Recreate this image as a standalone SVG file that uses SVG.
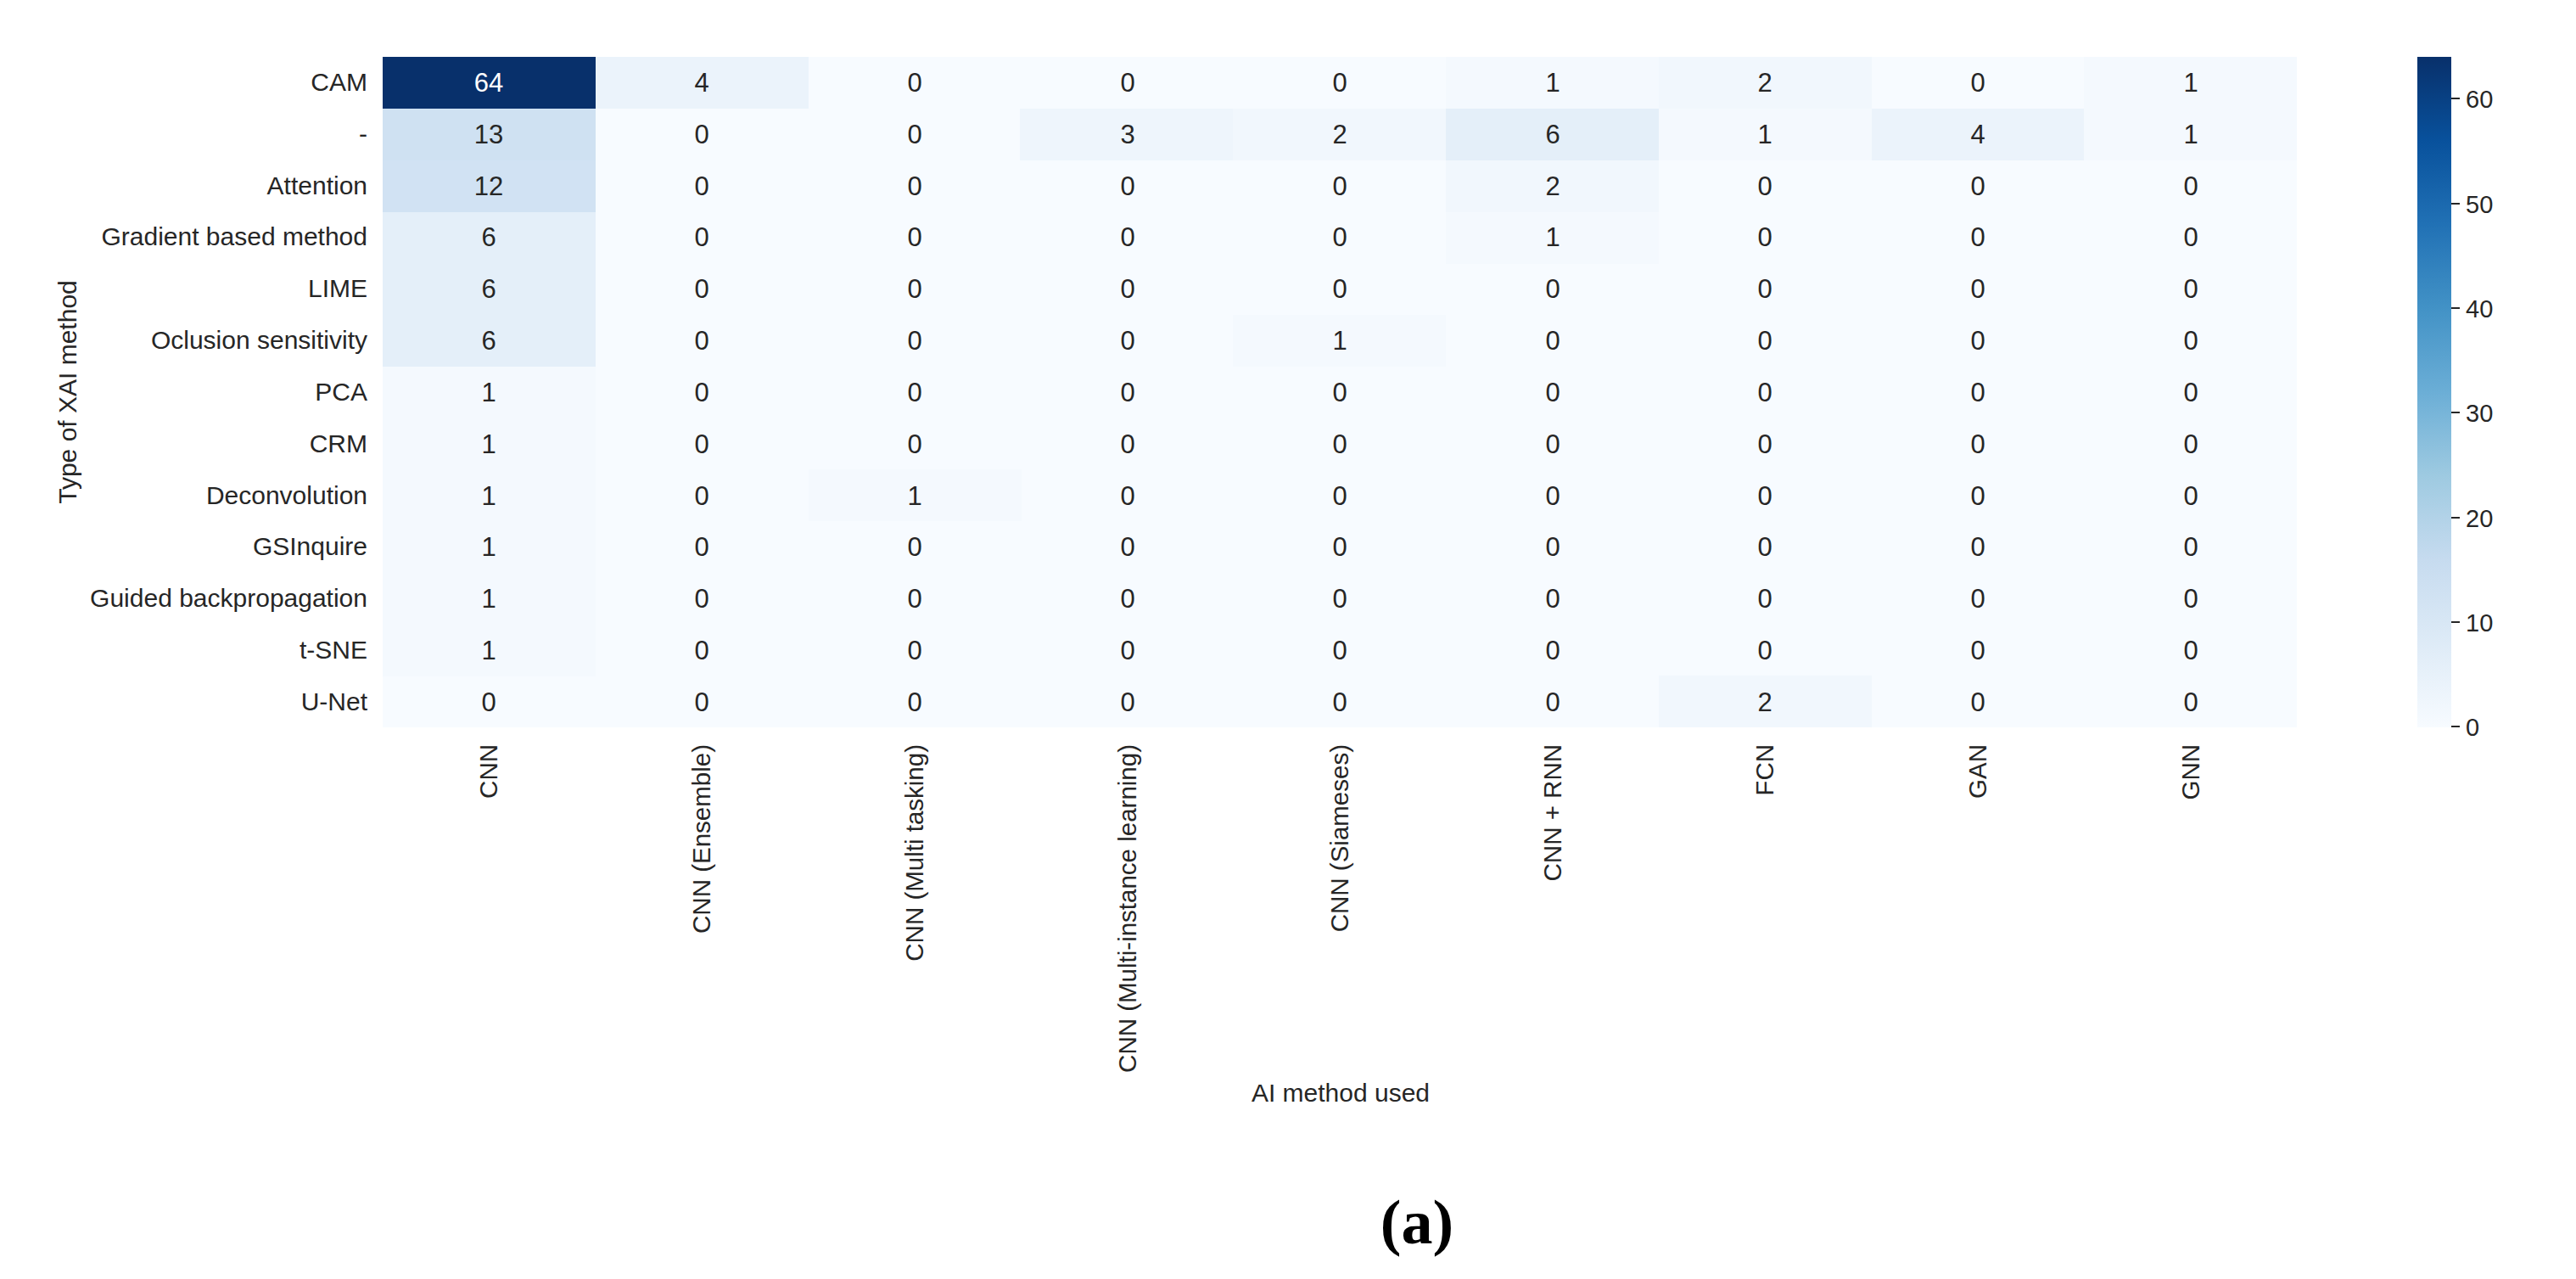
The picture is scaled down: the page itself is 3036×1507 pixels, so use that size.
<svg xmlns="http://www.w3.org/2000/svg" width="3036" height="1507" viewBox="0 0 3036 1507">
<style>
text{font-family:"Liberation Sans",Arial,sans-serif;fill:#262626}
.v{font-size:31px;text-anchor:middle}
.w{fill:#ffffff}
.r{font-size:30px;text-anchor:end}
.c{font-size:29.5px;text-anchor:end}
.t{font-size:29px}
.ax{font-size:30px;text-anchor:middle}
</style>
<defs>
<linearGradient id="cb" x1="0" y1="1" x2="0" y2="0">
<stop offset="0" stop-color="#f7fbff"/><stop offset="0.125" stop-color="#deebf7"/><stop offset="0.25" stop-color="#c6dbef"/><stop offset="0.375" stop-color="#9ecae1"/><stop offset="0.5" stop-color="#6baed6"/><stop offset="0.625" stop-color="#4292c6"/><stop offset="0.75" stop-color="#2171b5"/><stop offset="0.875" stop-color="#08519c"/><stop offset="1" stop-color="#08306b"/>
</linearGradient>
</defs>
<rect width="3036" height="1507" fill="#ffffff"/>
<g id="heatmap">
<rect x="451" y="67" width="2256" height="790" fill="#f7fbff"/>
<rect x="451" y="67" width="251" height="61" fill="#08306b"/>
<rect x="702" y="67" width="251" height="61" fill="#ebf3fb"/>
<rect x="1704" y="67" width="251" height="61" fill="#f4f9fe"/>
<rect x="1955" y="67" width="251" height="61" fill="#f1f7fd"/>
<rect x="2456" y="67" width="251" height="61" fill="#f4f9fe"/>
<rect x="451" y="128" width="251" height="61" fill="#cfe1f2"/>
<rect x="1202" y="128" width="251" height="61" fill="#eef5fc"/>
<rect x="1453" y="128" width="251" height="61" fill="#f1f7fd"/>
<rect x="1704" y="128" width="251" height="61" fill="#e4eff9"/>
<rect x="1955" y="128" width="251" height="61" fill="#f4f9fe"/>
<rect x="2206" y="128" width="251" height="61" fill="#ebf3fb"/>
<rect x="2456" y="128" width="251" height="61" fill="#f4f9fe"/>
<rect x="451" y="189" width="251" height="61" fill="#d1e2f3"/>
<rect x="1704" y="189" width="251" height="61" fill="#f1f7fd"/>
<rect x="451" y="250" width="251" height="182" fill="#e4eff9"/>
<rect x="1704" y="250" width="251" height="61" fill="#f4f9fe"/>
<rect x="1453" y="371" width="251" height="61" fill="#f4f9fe"/>
<rect x="451" y="432" width="251" height="365" fill="#f4f9fe"/>
<rect x="953" y="553" width="251" height="61" fill="#f4f9fe"/>
<rect x="1955" y="796" width="251" height="61" fill="#f1f7fd"/>
</g>
<g id="values">
<text class="v w" x="576" y="108">64</text><text class="v" x="827" y="108">4</text><text class="v" x="1078" y="108">0</text><text class="v" x="1329" y="108">0</text><text class="v" x="1579" y="108">0</text><text class="v" x="1830" y="108">1</text><text class="v" x="2080" y="108">2</text><text class="v" x="2331" y="108">0</text><text class="v" x="2582" y="108">1</text>
<text class="v" x="576" y="169">13</text><text class="v" x="827" y="169">0</text><text class="v" x="1078" y="169">0</text><text class="v" x="1329" y="169">3</text><text class="v" x="1579" y="169">2</text><text class="v" x="1830" y="169">6</text><text class="v" x="2080" y="169">1</text><text class="v" x="2331" y="169">4</text><text class="v" x="2582" y="169">1</text>
<text class="v" x="576" y="230">12</text><text class="v" x="827" y="230">0</text><text class="v" x="1078" y="230">0</text><text class="v" x="1329" y="230">0</text><text class="v" x="1579" y="230">0</text><text class="v" x="1830" y="230">2</text><text class="v" x="2080" y="230">0</text><text class="v" x="2331" y="230">0</text><text class="v" x="2582" y="230">0</text>
<text class="v" x="576" y="290">6</text><text class="v" x="827" y="290">0</text><text class="v" x="1078" y="290">0</text><text class="v" x="1329" y="290">0</text><text class="v" x="1579" y="290">0</text><text class="v" x="1830" y="290">1</text><text class="v" x="2080" y="290">0</text><text class="v" x="2331" y="290">0</text><text class="v" x="2582" y="290">0</text>
<text class="v" x="576" y="351">6</text><text class="v" x="827" y="351">0</text><text class="v" x="1078" y="351">0</text><text class="v" x="1329" y="351">0</text><text class="v" x="1579" y="351">0</text><text class="v" x="1830" y="351">0</text><text class="v" x="2080" y="351">0</text><text class="v" x="2331" y="351">0</text><text class="v" x="2582" y="351">0</text>
<text class="v" x="576" y="412">6</text><text class="v" x="827" y="412">0</text><text class="v" x="1078" y="412">0</text><text class="v" x="1329" y="412">0</text><text class="v" x="1579" y="412">1</text><text class="v" x="1830" y="412">0</text><text class="v" x="2080" y="412">0</text><text class="v" x="2331" y="412">0</text><text class="v" x="2582" y="412">0</text>
<text class="v" x="576" y="473">1</text><text class="v" x="827" y="473">0</text><text class="v" x="1078" y="473">0</text><text class="v" x="1329" y="473">0</text><text class="v" x="1579" y="473">0</text><text class="v" x="1830" y="473">0</text><text class="v" x="2080" y="473">0</text><text class="v" x="2331" y="473">0</text><text class="v" x="2582" y="473">0</text>
<text class="v" x="576" y="534">1</text><text class="v" x="827" y="534">0</text><text class="v" x="1078" y="534">0</text><text class="v" x="1329" y="534">0</text><text class="v" x="1579" y="534">0</text><text class="v" x="1830" y="534">0</text><text class="v" x="2080" y="534">0</text><text class="v" x="2331" y="534">0</text><text class="v" x="2582" y="534">0</text>
<text class="v" x="576" y="595">1</text><text class="v" x="827" y="595">0</text><text class="v" x="1078" y="595">1</text><text class="v" x="1329" y="595">0</text><text class="v" x="1579" y="595">0</text><text class="v" x="1830" y="595">0</text><text class="v" x="2080" y="595">0</text><text class="v" x="2331" y="595">0</text><text class="v" x="2582" y="595">0</text>
<text class="v" x="576" y="655">1</text><text class="v" x="827" y="655">0</text><text class="v" x="1078" y="655">0</text><text class="v" x="1329" y="655">0</text><text class="v" x="1579" y="655">0</text><text class="v" x="1830" y="655">0</text><text class="v" x="2080" y="655">0</text><text class="v" x="2331" y="655">0</text><text class="v" x="2582" y="655">0</text>
<text class="v" x="576" y="716">1</text><text class="v" x="827" y="716">0</text><text class="v" x="1078" y="716">0</text><text class="v" x="1329" y="716">0</text><text class="v" x="1579" y="716">0</text><text class="v" x="1830" y="716">0</text><text class="v" x="2080" y="716">0</text><text class="v" x="2331" y="716">0</text><text class="v" x="2582" y="716">0</text>
<text class="v" x="576" y="777">1</text><text class="v" x="827" y="777">0</text><text class="v" x="1078" y="777">0</text><text class="v" x="1329" y="777">0</text><text class="v" x="1579" y="777">0</text><text class="v" x="1830" y="777">0</text><text class="v" x="2080" y="777">0</text><text class="v" x="2331" y="777">0</text><text class="v" x="2582" y="777">0</text>
<text class="v" x="576" y="838">0</text><text class="v" x="827" y="838">0</text><text class="v" x="1078" y="838">0</text><text class="v" x="1329" y="838">0</text><text class="v" x="1579" y="838">0</text><text class="v" x="1830" y="838">0</text><text class="v" x="2080" y="838">2</text><text class="v" x="2331" y="838">0</text><text class="v" x="2582" y="838">0</text>
</g>
<g id="row-labels">
<text class="r" x="433" y="107">CAM</text>
<text class="r" x="433" y="168">-</text>
<text class="r" x="433" y="229">Attention</text>
<text class="r" x="433" y="289">Gradient based method</text>
<text class="r" x="433" y="350">LIME</text>
<text class="r" x="433" y="411">Oclusion sensitivity</text>
<text class="r" x="433" y="472">PCA</text>
<text class="r" x="433" y="533">CRM</text>
<text class="r" x="433" y="594">Deconvolution</text>
<text class="r" x="433" y="654">GSInquire</text>
<text class="r" x="433" y="715">Guided backpropagation</text>
<text class="r" x="433" y="776">t-SNE</text>
<text class="r" x="433" y="837">U-Net</text>
</g>
<g id="col-labels">
<text class="c" transform="translate(586,877) rotate(-90)">CNN</text>
<text class="c" transform="translate(837,877) rotate(-90)">CNN (Ensemble)</text>
<text class="c" transform="translate(1088,877) rotate(-90)">CNN (Multi tasking)</text>
<text class="c" transform="translate(1339,877) rotate(-90)">CNN (Multi-instance learning)</text>
<text class="c" transform="translate(1589,877) rotate(-90)">CNN (Siameses)</text>
<text class="c" transform="translate(1840,877) rotate(-90)">CNN + RNN</text>
<text class="c" transform="translate(2090,877) rotate(-90)">FCN</text>
<text class="c" transform="translate(2341,877) rotate(-90)">GAN</text>
<text class="c" transform="translate(2592,877) rotate(-90)">GNN</text>
</g>
<g id="axis-titles">
<text class="ax" x="1580" y="1298">AI method used</text>
<text class="ax" transform="translate(90,462) rotate(-90)">Type of XAI method</text>
</g>
<g id="colorbar">
<rect x="2849" y="67" width="40" height="790" fill="url(#cb)"/>
<g stroke="#262626" stroke-width="2">
<line x1="2889" y1="116" x2="2899" y2="116"/><line x1="2889" y1="240" x2="2899" y2="240"/><line x1="2889" y1="363" x2="2899" y2="363"/><line x1="2889" y1="486" x2="2899" y2="486"/><line x1="2889" y1="610" x2="2899" y2="610"/><line x1="2889" y1="733" x2="2899" y2="733"/><line x1="2889" y1="856" x2="2899" y2="856"/>
</g>
<text class="t" x="2906" y="127">60</text><text class="t" x="2906" y="251">50</text><text class="t" x="2906" y="374">40</text><text class="t" x="2906" y="497">30</text><text class="t" x="2906" y="621">20</text><text class="t" x="2906" y="744">10</text><text class="t" x="2906" y="867">0</text>
</g>
<text x="1670" y="1465" style="font-family:'Liberation Serif','Times New Roman',serif;font-size:74px;font-weight:bold;text-anchor:middle;fill:#000">(a)</text>
</svg>
